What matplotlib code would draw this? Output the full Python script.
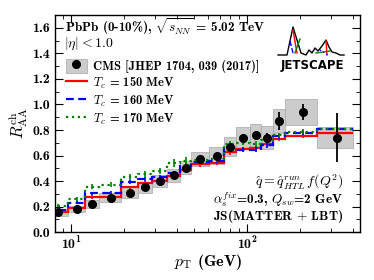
import numpy as np
import matplotlib.pyplot as plt
from matplotlib.patches import Patch
from matplotlib.lines import Line2D
from matplotlib.ticker import MultipleLocator, FormatStrFormatter

plt.rcParams['font.family'] = 'cmb10'
plt.rcParams['mathtext.fontset'] = 'cm'
plt.rcParams['axes.formatter.use_mathtext'] = True
plt.rcParams['axes.unicode_minus'] = False

# CMS charged hadron R_AA, PbPb 0-10%, |eta| < 1
pt_edges = [7.2, 9.6, 12.0, 14.4, 19.2, 24.0, 28.8, 35.2, 41.6, 48.0, 60.8,
            73.6, 86.4, 103.6, 120.8, 140.0, 165.0, 250.0, 400.0]
cms_raa = [0.155, 0.18, 0.22, 0.27, 0.31, 0.35, 0.40, 0.445, 0.505, 0.57,
           0.60, 0.67, 0.74, 0.76, 0.74, 0.873, 0.94, 0.74]
cms_stat = [0.004, 0.004, 0.005, 0.005, 0.006, 0.007, 0.008, 0.01, 0.012,
            0.012, 0.015, 0.02, 0.025, 0.03, 0.035, 0.07, 0.063, 0.19]
cms_sys = [0.025, 0.025, 0.03, 0.035, 0.04, 0.04, 0.045, 0.05, 0.05, 0.055,
           0.065, 0.075, 0.08, 0.085, 0.09, 0.095, 0.10, 0.08]

# JETSCAPE MATTER+LBT, same binning, three values of T_c
raa_tc150 = [0.16, 0.19, 0.275, 0.275, 0.35, 0.385, 0.40, 0.44, 0.49, 0.53,
             0.545, 0.625, 0.65, 0.66, 0.69, 0.73, 0.755, 0.775]
raa_tc160 = [0.17, 0.23, 0.305, 0.31, 0.39, 0.415, 0.43, 0.46, 0.52, 0.55,
             0.56, 0.67, 0.645, 0.645, 0.68, 0.75, 0.78, 0.805]
raa_tc170 = [0.205, 0.26, 0.355, 0.37, 0.43, 0.455, 0.48, 0.54, 0.56, 0.565,
             0.57, 0.69, 0.70, 0.69, 0.72, 0.76, 0.785, 0.81]
err_tc150 = [0.01, 0.012, 0.012, 0.012, 0.015, 0.015, 0.015, 0.018, 0.018,
             0.018, 0.02, 0.02, 0.02, 0.02, 0.02, 0.02, 0.02, 0.015]
err_tc160 = err_tc150
err_tc170 = [0.012, 0.018, 0.02, 0.02, 0.022, 0.022, 0.025, 0.03, 0.025,
             0.022, 0.022, 0.022, 0.02, 0.02, 0.02, 0.02, 0.02, 0.015]

edges = np.array(pt_edges)
centers = 0.5 * (edges[:-1] + edges[1:])
widths = np.diff(edges)
raa = np.array(cms_raa)
sys_err = np.array(cms_sys)

fig = plt.figure(figsize=(3.74, 2.80), dpi=100)
ax = fig.add_axes([0.147, 0.171, 0.816, 0.775])

# systematic boxes
ax.bar(edges[:-1], 2 * sys_err, bottom=raa - sys_err, width=widths, align='edge',
       color='0.8', edgecolor='0.65', linewidth=0.5, zorder=1)

models = [(raa_tc150, err_tc150, 'red', '-'),
          (raa_tc160, err_tc160, 'blue', (0, (3.5, 2))),
          (raa_tc170, err_tc170, 'green', ':')]
for vals, errs, col, ls in models:
    ax.stairs(vals, edges, baseline=None, color=col, linestyle=ls,
              linewidth=1.6, zorder=3)
    ax.errorbar(centers, vals, yerr=errs, fmt='none', ecolor=col,
                elinewidth=1.2, zorder=3)

ax.errorbar(centers, raa, yerr=cms_stat, fmt='o', color='black', ms=5.5,
            elinewidth=1.3, zorder=5)

ax.set_xscale('log')
ax.set_xlim(8.1, 440)
ax.set_ylim(0, 1.7)
ax.yaxis.set_major_locator(MultipleLocator(0.2))
ax.yaxis.set_minor_locator(MultipleLocator(0.1))
ax.yaxis.set_major_formatter(FormatStrFormatter('%.1f'))
ax.tick_params(which='both', direction='in', top=True, right=True, labelsize=10)
ax.tick_params(which='major', length=6)
ax.tick_params(which='minor', length=3)
ax.tick_params(axis='x', pad=2)
for s in ax.spines.values():
    s.set_linewidth(1.0)

ax.set_xlabel(r'$p_{\rm T}$ (GeV)', fontsize=11.5, labelpad=0)
ax.set_ylabel(r'$R_{\rm AA}^{\rm ch}$', fontsize=12, labelpad=2)

ax.text(0.033, 0.945, r'PbPb (0-10%), $\sqrt{s_{NN}}$ = 5.02 TeV',
        transform=ax.transAxes, fontsize=9.5, va='center', ha='left')
ax.text(0.03, 0.866, r'$|\eta| < 1.0$', transform=ax.transAxes,
        fontsize=10, va='center', ha='left')

ax.text(0.944, 0.232, r'$\hat{q} = \hat{q}^{run}_{HTL}\, f(Q^2)$',
        transform=ax.transAxes, fontsize=10, va='center', ha='right')
ax.text(0.944, 0.150, r'$\alpha_s^{fix}$=0.3, $Q_{sw}$=2 GeV',
        transform=ax.transAxes, fontsize=9.5, va='center', ha='right')
ax.text(0.944, 0.072, r'JS(MATTER $+$ LBT)',
        transform=ax.transAxes, fontsize=9.5, va='center', ha='right')

handles = [(Patch(facecolor='0.8', edgecolor='0.65', linewidth=0.5),
            Line2D([], [], marker='o', color='black', ls='none', ms=5.5)),
           Line2D([], [], color='red', lw=1.6),
           Line2D([], [], color='blue', lw=1.6, ls=(0, (3.5, 2))),
           Line2D([], [], color='green', lw=1.6, ls=':')]
labels = ['CMS [JHEP 1704, 039 (2017)]',
          r'$T_c$ = 150 MeV', r'$T_c$ = 160 MeV', r'$T_c$ = 170 MeV']
ax.legend(handles, labels, loc='upper left', bbox_to_anchor=(0.035, 0.80),
          frameon=False, fontsize=9, handlelength=1.7, handleheight=1.4,
          labelspacing=0.2, handletextpad=0.5, borderpad=0, borderaxespad=0)

# JETSCAPE logo
logo = fig.add_axes([276 / 374, 1 - 73 / 280, 72 / 374, 48 / 280])
logo.set_xlim(0, 72)
logo.set_ylim(48, 0)
logo.axis('off')
mx = [2, 11, 17, 25, 30, 33, 36, 39, 42, 46, 50, 53, 56, 60, 64, 68]
my = [30, 30, 2, 28, 30, 25, 28, 23, 26, 21, 15, 22, 27, 28, 30, 30]
logo.plot(mx, my, color='black', lw=1.0)
logo.plot([17, 21], [5, 28], color='red', lw=1.0)
logo.plot([14, 17], [16, 28], color='blue', lw=1.0, ls='--')
logo.plot([19, 24], [28, 14], color='green', lw=1.0)
logo.plot([50, 51], [16, 30], color='red', lw=1.0)
logo.plot([44, 52], [25, 30], color='blue', lw=1.0, ls=':')
logo.plot([40, 54], [28, 26], color='green', lw=1.0)
logo.text(36, 41, 'JETSCAPE', fontsize=8.5, fontweight='heavy',
          family='DejaVu Sans', ha='center', va='center')

fig.savefig('out.png', dpi=100)
